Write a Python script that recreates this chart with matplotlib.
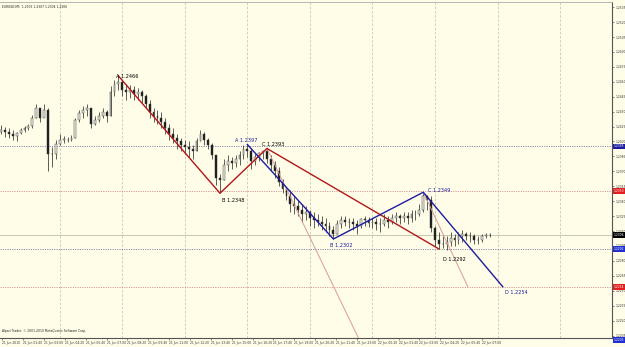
import matplotlib
matplotlib.use("Agg")
import matplotlib.pyplot as plt
import matplotlib.transforms as mtransforms
from datetime import datetime, timedelta

# ---------------- data ----------------
symbol_header = "EURUSD,M5  1.2305 1.2307 1.2304 1.2306"
copyright_text = "Alpari Trader, \u00a9 2001-2010 MetaQuotes Software Corp."
start = datetime(2010, 6, 21, 0, 0)

# 15-minute candles, first one at 00:15 on 21 Jun 2010
candle_step_min = 15
candle_first_min = 15
highs = [1.2417, 1.2415, 1.2414, 1.2412, 1.2410, 1.2414, 1.2416, 1.2418, 1.2427, 1.2438,
         1.2434, 1.2438, 1.2434, 1.2394, 1.2402, 1.2408, 1.2406, 1.2405, 1.2407, 1.2424,
         1.2432, 1.2436, 1.2438, 1.2434, 1.2426, 1.2430, 1.2434, 1.2432, 1.2456, 1.2462,
         1.2466, 1.2462, 1.2458, 1.2457, 1.2456, 1.2454, 1.2452, 1.2448, 1.2442, 1.2434,
         1.2432, 1.2430, 1.2424, 1.2418, 1.2414, 1.2408, 1.2404, 1.2402, 1.2400, 1.2396,
         1.2404, 1.2412, 1.2410, 1.2404, 1.2398, 1.2386, 1.2367, 1.2382, 1.2386, 1.2384,
         1.2386, 1.2390, 1.2396, 1.2397, 1.2392, 1.2388, 1.2389, 1.2390, 1.2393, 1.2386,
         1.2380, 1.2374, 1.2362, 1.2354, 1.2351, 1.2345, 1.2341, 1.2337, 1.2335, 1.2331,
         1.2329, 1.2327, 1.2325, 1.2323, 1.2319, 1.2315, 1.2321, 1.2325, 1.2325, 1.2323,
         1.2323, 1.2321, 1.2323, 1.2325, 1.2324, 1.2323, 1.2323, 1.2323, 1.2327, 1.2325,
         1.2327, 1.2329, 1.2327, 1.2329, 1.2329, 1.2331, 1.2331, 1.2337, 1.2349, 1.2346,
         1.2345, 1.2315, 1.2309, 1.2305, 1.2305, 1.2309, 1.2307, 1.2309, 1.2311, 1.2309,
         1.2309, 1.2307, 1.2305, 1.2307, 1.2308, 1.2308]
lows = [1.2408, 1.2405, 1.2404, 1.2402, 1.2400, 1.2408, 1.2410, 1.2412, 1.2414, 1.2424,
        1.2420, 1.2427, 1.2370, 1.2374, 1.2382, 1.2396, 1.2398, 1.2399, 1.2400, 1.2404,
        1.2420, 1.2424, 1.2426, 1.2414, 1.2417, 1.2420, 1.2424, 1.2420, 1.2426, 1.2446,
        1.2452, 1.2446, 1.2442, 1.2444, 1.2442, 1.2442, 1.2439, 1.2434, 1.2424, 1.2420,
        1.2418, 1.2414, 1.2408, 1.2402, 1.2398, 1.2392, 1.2390, 1.2387, 1.2384, 1.2382,
        1.2390, 1.2400, 1.2396, 1.2392, 1.2382, 1.2356, 1.2348, 1.2361, 1.2370, 1.2372,
        1.2374, 1.2376, 1.2382, 1.2384, 1.2372, 1.2376, 1.2380, 1.2382, 1.2378, 1.2370,
        1.2363, 1.2355, 1.2348, 1.2341, 1.2329, 1.2327, 1.2325, 1.2319, 1.2321, 1.2315,
        1.2313, 1.2315, 1.2311, 1.2309, 1.2305, 1.2302, 1.2307, 1.2313, 1.2315, 1.2313,
        1.2311, 1.2307, 1.2313, 1.2315, 1.2314, 1.2313, 1.2311, 1.2309, 1.2315, 1.2313,
        1.2317, 1.2319, 1.2317, 1.2319, 1.2317, 1.2319, 1.2321, 1.2325, 1.2329, 1.2331,
        1.2309, 1.2295, 1.2292, 1.2293, 1.2291, 1.2295, 1.2295, 1.2297, 1.2299, 1.2301,
        1.2299, 1.2297, 1.2297, 1.2299, 1.2303, 1.2304]
closes = [1.2412, 1.2410, 1.2408, 1.2406, 1.2409, 1.2412, 1.2414, 1.2416, 1.2424, 1.2434,
          1.2424, 1.2432, 1.2387, 1.2387, 1.2397, 1.2402, 1.2402, 1.2401, 1.2404, 1.2422,
          1.2429, 1.2432, 1.2434, 1.2418, 1.2422, 1.2426, 1.2430, 1.2426, 1.2450, 1.2458,
          1.2460, 1.2452, 1.2450, 1.2452, 1.2448, 1.2450, 1.2446, 1.2438, 1.2430, 1.2426,
          1.2424, 1.2420, 1.2414, 1.2408, 1.2404, 1.2400, 1.2396, 1.2394, 1.2392, 1.2390,
          1.2400, 1.2408, 1.2402, 1.2396, 1.2386, 1.2363, 1.2361, 1.2376, 1.2380, 1.2378,
          1.2382, 1.2386, 1.2392, 1.2390, 1.2380, 1.2384, 1.2388, 1.2390, 1.2382, 1.2376,
          1.2370, 1.2359, 1.2352, 1.2345, 1.2337, 1.2335, 1.2331, 1.2327, 1.2329, 1.2323,
          1.2321, 1.2319, 1.2317, 1.2315, 1.2311, 1.2307, 1.2317, 1.2321, 1.2319, 1.2319,
          1.2317, 1.2315, 1.2322, 1.2321, 1.2318, 1.2319, 1.2317, 1.2317, 1.2321, 1.2319,
          1.2323, 1.2325, 1.2323, 1.2325, 1.2323, 1.2327, 1.2327, 1.2331, 1.2345, 1.2341,
          1.2313, 1.2301, 1.2297, 1.2297, 1.2299, 1.2303, 1.2301, 1.2305, 1.2307, 1.2305,
          1.2305, 1.2301, 1.2301, 1.2305, 1.2306, 1.2306]
first_open = 1.2410

# harmonic (ABCD) pattern points: (label, minutes since 21 Jun 00:00, price)
red_labels = ["A 1.2466", "B 1.2348", "C 1.2393", "D 1.2292"]
red_minutes = [465, 855, 1035, 1695]
red_prices = [1.2466, 1.2348, 1.2393, 1.2292]
blue_labels = ["A 1.2397", "B 1.2302", "C 1.2349", "D 1.2254"]
blue_minutes = [960, 1290, 1635, 1940]
blue_prices = [1.2397, 1.2302, 1.2349, 1.2254]
# thin projection lines (start, end)
proj1_minutes = [1035, 1400]
proj1_prices = [1.2393, 1.2195]
proj2_minutes = [1635, 1806]
proj2_prices = [1.2349, 1.2254]

# horizontal levels
red_levels = [1.2350, 1.2254]
blue_levels = [1.2395, 1.2292, 1.2203]
bid_level = 1.2306

y_ticks = [1.2205, 1.2220, 1.2235, 1.2250, 1.2265, 1.2280, 1.2295, 1.2310, 1.2325,
           1.2340, 1.2355, 1.2370, 1.2385, 1.2400, 1.2415, 1.2430, 1.2445, 1.2460,
           1.2475, 1.2490, 1.2505, 1.2520, 1.2535]
x_label_first_min = 20
x_label_last_min = 1860
x_label_step_min = 80
grid_step_min = 240

# ---------------- style ----------------
BG = "#fffde8"
RED = "#b01818"
BLUE = "#1c1ca0"
PINK = "#d89a9a"
GRIDC = "#c8c8b8"

fig = plt.figure(figsize=(6.25, 3.47), dpi=100, facecolor=BG)
ax = fig.add_axes([0.0, 1 - 338 / 347, 612 / 625, 336 / 347])
ax.set_facecolor(BG)

xmin, xmax = 11, 2359
ymin, ymax = 1.22025, 1.25402
ax.set_xlim(xmin, xmax)
ax.set_ylim(ymin, ymax)

# vertical grid
g = grid_step_min
while g < xmax:
    if g > xmin:
        ax.axvline(g, color=GRIDC, lw=0.6, ls=(0, (3, 2)), zorder=0)
    g += grid_step_min

# horizontal levels
for lv in red_levels:
    ax.axhline(lv, color=PINK, lw=0.7, ls=(0, (1.2, 1.2)), zorder=1)
for lv in blue_levels:
    ax.axhline(lv, color="#8a8aa8", lw=0.7, ls=(0, (1.2, 1.2)), zorder=1)
ax.axhline(bid_level, color="#c8c8b0", lw=0.7, zorder=1)

# candles
opens = [first_open] + closes[:-1]
times = [candle_first_min + candle_step_min * i for i in range(len(closes))]
ax.vlines(times, lows, highs, color="#333333", lw=0.55, zorder=2)
for t, o, c in zip(times, opens, closes):
    lo, hi = min(o, c), max(o, c)
    h = max(hi - lo, 0.00004)
    bull = c >= o
    ax.bar(t, h, bottom=lo, width=7, color=("#eeeee4" if bull else "#151515"),
           edgecolor="#444444", lw=0.35, zorder=3)

# pattern lines
ax.plot(proj1_minutes, proj1_prices, color=PINK, lw=0.7, zorder=4)
ax.plot(proj2_minutes, proj2_prices, color=PINK, lw=0.7, zorder=4)
ax.plot(red_minutes, red_prices, color=RED, lw=1.0, zorder=5)
ax.plot(blue_minutes, blue_prices, color=BLUE, lw=1.0, zorder=5)

red_offsets = [(-2, -1), (2, -7), (-5, 4), (4, -11)]
blue_offsets = [(-12, 4), (-3, -6), (5, 2), (2, -6)]
for lab, t, p, off in zip(red_labels, red_minutes, red_prices, red_offsets):
    ax.annotate(lab, (t, p), xytext=off, textcoords="offset pixels",
                fontsize=3.6, color="black", ha="left", va="center", zorder=6)
for lab, t, p, off in zip(blue_labels, blue_minutes, blue_prices, blue_offsets):
    ax.annotate(lab, (t, p), xytext=off, textcoords="offset pixels",
                fontsize=3.6, color=BLUE, ha="left", va="center", zorder=6)

# axes styling
for s in ["left", "top"]:
    ax.spines[s].set_visible(False)
ax.spines["right"].set_color("#555555")
ax.spines["right"].set_linewidth(0.8)
ax.spines["bottom"].set_color("#555555")
ax.spines["bottom"].set_linewidth(0.8)

ax.yaxis.tick_right()
ax.set_yticks(y_ticks)
ax.set_yticklabels([f"{v:.4f}" for v in y_ticks])
ax.tick_params(axis="y", labelsize=2.2, length=1.5, width=0.4, pad=1.2,
               colors="#333333")

xt = []
xl = []
m = x_label_first_min
k = 0
while m <= x_label_last_min:
    xt.append(m)
    d = start + timedelta(minutes=m)
    xl.append(d.strftime("%d %b %Y") if k == 0 else d.strftime("%d %b %H:%M"))
    m += x_label_step_min
    k += 1
ax.set_xticks(xt)
ax.set_xticklabels(xl, ha="left")
ax.tick_params(axis="x", labelsize=2.2, length=1.5, width=0.4, pad=0.8,
               colors="#333333")

# right axis price boxes
trans = mtransforms.blended_transform_factory(ax.transAxes, ax.transData)
boxes = [(blue_levels[0], BLUE, 0), (red_levels[0], "#e02020", 0), (bid_level, "#000000", 0),
         (blue_levels[1], "#2030d0", 0), (red_levels[1], "#e02020", 0),
         (blue_levels[2], "#2030d0", -2.5)]
for lv, col, dy in boxes:
    ax.annotate(f"{lv:.4f}", (1.003, lv), xycoords=trans, xytext=(0, dy),
                textcoords="offset pixels", fontsize=2.2, color="white",
                va="center", ha="left", zorder=7, annotation_clip=False,
                bbox=dict(boxstyle="square,pad=0.25", fc=col, ec="none"))

# header and copyright
ax.text(0.003, 0.99, symbol_header, transform=ax.transAxes, fontsize=2.2,
        va="top", ha="left", color="#222222")
ax.text(0.003, 0.015, copyright_text, transform=ax.transAxes, fontsize=2.2,
        va="bottom", ha="left", color="#222222")

# thin frame at top
fig.add_artist(plt.Line2D([0, 612 / 625], [1 - 2 / 347, 1 - 2 / 347],
                          color="#aaaaaa", lw=0.6))

fig.savefig("out.png", dpi=100, facecolor=BG)
